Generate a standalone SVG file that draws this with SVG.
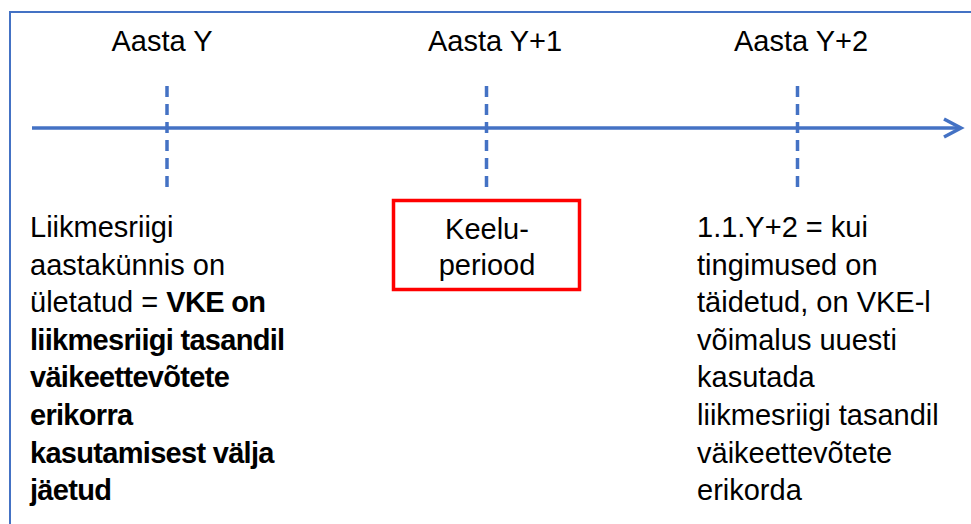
<svg xmlns="http://www.w3.org/2000/svg" width="971" height="524" viewBox="0 0 971 524">
  <style>
    .t { font-family: "Liberation Sans", Arial, sans-serif; font-size: 29px; fill: #000; }
    .c { text-anchor: middle; }
    .b { font-weight: bold; letter-spacing: -0.7px; }
    .axis { fill: none; stroke: #4472C4; stroke-width: 3.5; }
    .tick { fill: none; stroke: #4472C4; stroke-width: 3.5; stroke-dasharray: 11 7; }
  </style>
  <rect width="971" height="524" fill="#fff"/>
  <!-- frame -->
  <rect x="10" y="12" width="1000" height="600" fill="none" stroke="#4472C4" stroke-width="2"/>

  <g id="connectors">
    <path class="axis" d="M32,128 H959"/>
    <path class="axis" d="M944,119 L961,128 L944,137" stroke-linejoin="miter"/>
    <path class="tick" d="M167,187 V83"/>
    <path class="tick" d="M486.5,187 V83"/>
    <path class="tick" d="M797.5,187 V83"/>
  </g>

  <g id="year-y">
    <text class="t c" x="162" y="51">Aasta Y</text>
  </g>
  <g id="year-y1">
    <text class="t c" x="495" y="51">Aasta Y+1</text>
  </g>
  <g id="year-y2">
    <text class="t c" x="801" y="51">Aasta Y+2</text>
  </g>

  <g id="exceeded">
    <text class="t" x="30" y="237">Liikmesriigi</text>
    <text class="t" x="30" y="274.6">aastakünnis on</text>
    <text class="t" x="30" y="312.2">ületatud = <tspan class="b">VKE on</tspan></text>
    <text class="t b" x="30" y="349.8">liikmesriigi tasandil</text>
    <text class="t b" x="30" y="387.4">väikeettevõtete</text>
    <text class="t b" x="30" y="425">erikorra</text>
    <text class="t b" x="30" y="462.6">kasutamisest välja</text>
    <text class="t b" x="30" y="500.2">jäetud</text>
  </g>

  <g id="ban-period">
    <rect x="393.5" y="200.5" width="186" height="89" fill="#fff" stroke="#FF0000" stroke-width="3.5"/>
    <text class="t c" x="487" y="239">Keelu-</text>
    <text class="t c" x="487" y="275">periood</text>
  </g>

  <g id="reuse">
    <text class="t" x="697" y="237">1.1.Y+2 = kui</text>
    <text class="t" x="697" y="274.6">tingimused on</text>
    <text class="t" x="697" y="312.2">täidetud, on VKE-l</text>
    <text class="t" x="697" y="349.8">võimalus uuesti</text>
    <text class="t" x="697" y="387.4">kasutada</text>
    <text class="t" x="697" y="425">liikmesriigi tasandil</text>
    <text class="t" x="697" y="462.6">väikeettevõtete</text>
    <text class="t" x="697" y="500.2">erikorda</text>
  </g>
</svg>
